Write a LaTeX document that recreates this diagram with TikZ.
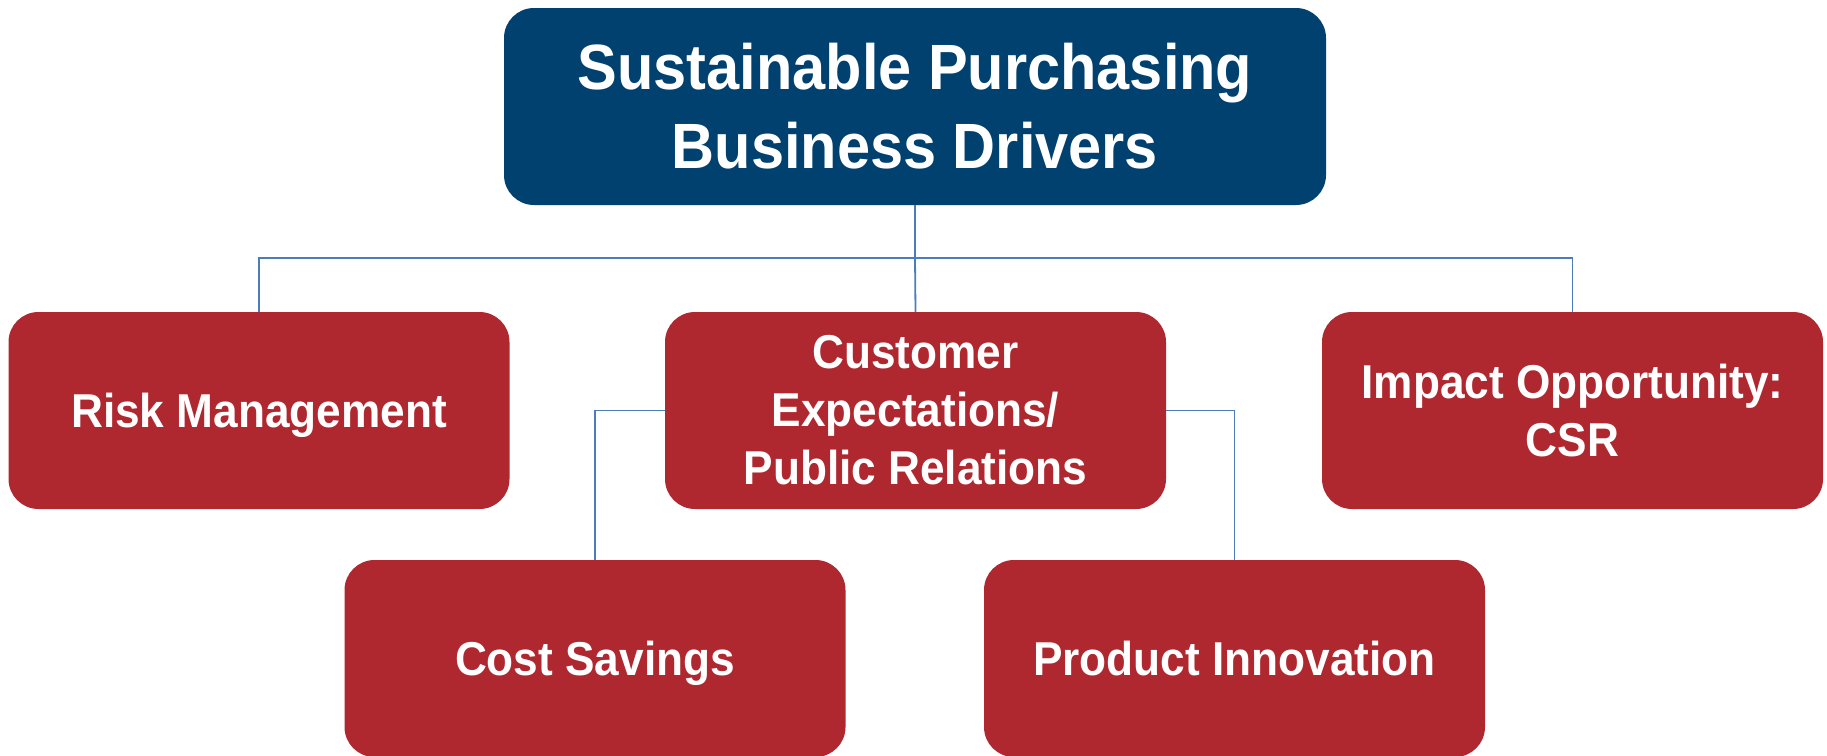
\documentclass[tikz,border=0pt]{standalone}
\usepackage{fontspec}
\setmainfont{Liberation Sans}[FakeStretch=0.93]
\definecolor{topblue}{HTML}{00416F}
\definecolor{boxred}{HTML}{B0282F}
\definecolor{linkblue}{HTML}{4A7EBB}
\begin{document}
\begin{tikzpicture}[x=1pt,y=-1pt,
  box/.style={rectangle, rounded corners=30pt, fill=boxred, text=white,
    minimum width=501pt, minimum height=197pt, inner sep=0pt, align=center,
    font=\fontsize{47.5}{58}\selectfont\bfseries},
  oneline/.style={box, text height=34pt, text depth=0pt},
  topbox/.style={box, fill=topblue, minimum width=822pt,
    font=\fontsize{64}{79}\selectfont\bfseries},
  conn/.style={draw=linkblue, line width=1.8pt}]
\useasboundingbox (0,0) rectangle (1827,755);
\node[topbox] (top) at (915,106.5) {Sustainable Purchasing\\Business Drivers};
\node[oneline] (risk) at (259,410.5) {Risk Management};
\node[box] (cust) at (915.5,410.5) {Customer\\Expectations/\\Public Relations};
\node[box] (impact) at (1572.5,410.5) {Impact Opportunity:\\CSR};
\node[oneline] (cost) at (595,658.5) {Cost Savings};
\node[oneline] (prod) at (1234.5,658.5) {Product Innovation};
\coordinate (bus) at (915,258);
\draw[conn] (top.south) -- (bus);
\draw[conn] (risk.north) |- (bus) -| (impact.north);
\draw[conn] (bus) -- (cust.north);
\draw[conn] (cust.west) -| (cost.north);
\draw[conn] (cust.east) -| (prod.north);
\end{tikzpicture}
\end{document}
